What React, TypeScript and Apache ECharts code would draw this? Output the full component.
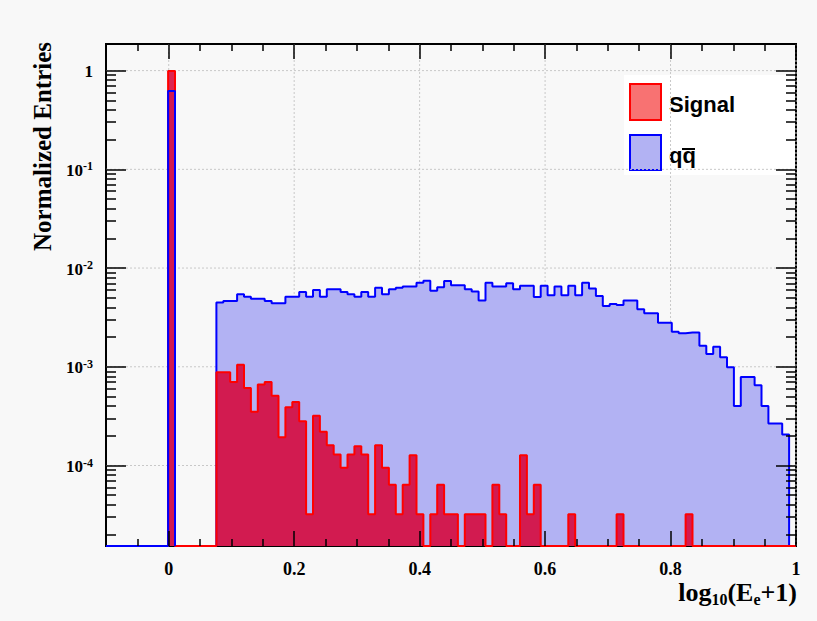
import React, { useEffect, useRef } from 'react';
import * as echarts from 'echarts';

// ---- axis ranges & binning ----
const X_MIN = -0.1;
const X_MAX = 1.0;
const Y_MIN = 1.53e-5;
const Y_MAX = 1.86;
const BIN_LOW = -0.1;
const BIN_WIDTH = 0.011;

// ---- histogram contents (100 bins of width 0.011 from -0.1) ----
const signal = [
  0, 0, 0, 0, 0, 0, 0, 0, 0, 0.99,
  0, 0, 0, 0, 0, 0, 8.8e-4, 8.8e-4, 7.0e-4, 1.05e-3,
  6.1e-4, 3.5e-4, 6.6e-4, 7.0e-4, 5.1e-4, 1.93e-4, 3.9e-4, 4.4e-4, 2.8e-4, 3.2e-5,
  3.2e-4, 2.2e-4, 1.6e-4, 1.29e-4, 9.5e-5, 1.29e-4, 1.57e-4, 1.29e-4, 3.2e-5, 1.6e-4,
  9.5e-5, 6.4e-5, 3.2e-5, 6.4e-5, 1.27e-4, 3.2e-5, 0, 3.2e-5, 6.4e-5, 3.2e-5,
  3.2e-5, 0, 3.2e-5, 3.2e-5, 3.2e-5, 0, 6.4e-5, 3.2e-5, 0, 0,
  1.27e-4, 3.2e-5, 6.4e-5, 0, 0, 0, 0, 3.2e-5, 0, 0,
  0, 0, 0, 0, 3.2e-5, 0, 0, 0, 0, 0,
  0, 0, 0, 0, 3.2e-5, 0, 0, 0, 0, 0,
  0, 0, 0, 0, 0, 0, 0, 0, 0, 0,
];

const qqbar = [
  0, 0, 0, 0, 0, 0, 0, 0, 0, 0.62,
  0, 0, 0, 0, 0, 0, 4.47e-3, 4.64e-3, 4.64e-3, 5.42e-3,
  5.13e-3, 4.89e-3, 4.89e-3, 4.64e-3, 4.40e-3, 4.40e-3, 5.13e-3, 5.13e-3, 5.73e-3, 5.13e-3,
  6.0e-3, 5.13e-3, 6.09e-3, 6.09e-3, 5.73e-3, 5.42e-3, 5.13e-3, 5.73e-3, 5.13e-3, 6.33e-3,
  5.42e-3, 6.09e-3, 6.33e-3, 6.5e-3, 6.5e-3, 7.1e-3, 7.44e-3, 5.9e-3, 6.4e-3, 7.4e-3,
  6.7e-3, 6.7e-3, 6.1e-3, 5.8e-3, 4.7e-3, 7.1e-3, 6.5e-3, 6.5e-3, 7.0e-3, 6.1e-3,
  6.6e-3, 6.6e-3, 5.1e-3, 6.6e-3, 5.3e-3, 6.5e-3, 5.3e-3, 6.6e-3, 5.3e-3, 7.1e-3,
  6.2e-3, 5.2e-3, 4.13e-3, 4.33e-3, 4.23e-3, 4.68e-3, 4.68e-3, 3.82e-3, 3.48e-3, 3.48e-3,
  2.8e-3, 2.8e-3, 2.27e-3, 2.19e-3, 2.22e-3, 2.22e-3, 1.63e-3, 1.35e-3, 1.6e-3, 1.25e-3,
  9.9e-4, 4.0e-4, 7.9e-4, 7.9e-4, 6.5e-4, 4.0e-4, 2.66e-4, 2.66e-4, 2.06e-4, 0,
];

// ---- ticks & labels ----
const X_MAJOR = [0, 0.2, 0.4, 0.6, 0.8, 1];
const X_MAJOR_LABELS = ['0', '0.2', '0.4', '0.6', '0.8', '1'];
const X_MINOR = [-0.05, 0.05, 0.1, 0.15, 0.25, 0.3, 0.35, 0.45, 0.5, 0.55, 0.65, 0.7, 0.75, 0.85, 0.9, 0.95];
const Y_MAJOR = [1e-4, 1e-3, 1e-2, 1e-1, 1];
const Y_MAJOR_EXP = ['-4', '-3', '-2', '-1', ''];
const Y_MINOR_MANTISSA = [2, 3, 4, 5, 6, 7, 8, 9];
const Y_DECADES = [1e-5, 1e-4, 1e-3, 1e-2, 1e-1, 1];

const SERIF = '"Liberation Serif", "Times New Roman", serif';
const SANS = '"Liberation Sans", Arial, sans-serif';

function histPoints(vals: number[]) {
  const pts: number[][] = [];
  for (let k = 0; k < vals.length; k++) {
    pts.push([+(BIN_LOW + k * BIN_WIDTH).toFixed(4), Math.max(vals[k], Y_MIN)]);
  }
  pts.push([+(BIN_LOW + vals.length * BIN_WIDTH).toFixed(4), Y_MIN]);
  return pts;
}

function yMinorValues() {
  const out: number[] = [];
  Y_DECADES.forEach((d) => {
    Y_MINOR_MANTISSA.forEach((m) => {
      const v = m * d;
      if (v > Y_MIN && v < Y_MAX) out.push(v);
    });
  });
  return out;
}

const TICK_STYLE = { color: '#000000', width: 1.5 };

// Tick-only axes: the axis line is pulled inside the frame by `len` px and the
// (outward-pointing) ticks reach back to the frame, so they sit inside the plot.
function xTickAxis(position: 'top' | 'bottom', values: number[], len: number) {
  return {
    type: 'value',
    position,
    offset: -len,
    min: X_MIN,
    max: X_MAX,
    z: 12,
    axisLine: { show: false, onZero: false },
    axisLabel: { show: false },
    splitLine: { show: false },
    axisTick: { show: true, inside: false, length: len, customValues: values, lineStyle: TICK_STYLE },
  };
}

function yTickAxis(position: 'left' | 'right', values: number[], len: number) {
  // linear axis in log10 space, overlaid on the log axis of the data
  return {
    type: 'value',
    position,
    offset: -len,
    min: Math.log10(Y_MIN),
    max: Math.log10(Y_MAX),
    z: 12,
    axisLine: { show: false, onZero: false },
    axisLabel: { show: false },
    splitLine: { show: false },
    axisTick: { show: true, inside: false, length: len, customValues: values.map((v) => Math.log10(v)), lineStyle: TICK_STYLE },
  };
}

export default function App() {
  const ref = useRef<HTMLDivElement>(null);

  useEffect(() => {
    if (!ref.current) return;
    const chart = echarts.init(ref.current, undefined, { renderer: 'svg' });
    const yMinor = yMinorValues();

    const renderGridLines = (_p: any, api: any) => {
      const ch: any[] = [];
      Y_MAJOR.forEach((v) => {
        const a = api.coord([X_MIN, v]);
        const b = api.coord([X_MAX, v]);
        ch.push({
          type: 'line',
          shape: { x1: a[0], y1: a[1], x2: b[0], y2: b[1] },
          style: { stroke: '#c8c8c8', lineWidth: 1, lineDash: [2, 2] },
        });
      });
      X_MAJOR.forEach((v) => {
        const a = api.coord([v, Y_MIN]);
        const b = api.coord([v, Y_MAX]);
        ch.push({
          type: 'line',
          shape: { x1: a[0], y1: a[1], x2: b[0], y2: b[1] },
          style: { stroke: '#c8c8c8', lineWidth: 1, lineDash: [2, 2] },
        });
      });
      return { type: 'group', children: ch };
    };

    const renderLabels = (_p: any, api: any) => {
      const ch: any[] = [];
      Y_MAJOR.forEach((v, i) => {
        const a = api.coord([X_MIN, v]);
        const exp = Y_MAJOR_EXP[i];
        ch.push({
          type: 'text',
          x: a[0] - 13,
          y: a[1] + 1,
          style: {
            text: exp ? `{b|10}{s|${exp}}` : '{b|1}',
            align: 'right',
            verticalAlign: 'middle',
            fill: '#000',
            rich: {
              b: { fontFamily: SERIF, fontWeight: 'bold', fontSize: 17, lineHeight: 20, fill: '#000' },
              s: { fontFamily: SERIF, fontWeight: 'bold', fontSize: 12, lineHeight: 10, verticalAlign: 'top', fill: '#000' },
            },
          },
        });
      });
      X_MAJOR.forEach((v, i) => {
        const a = api.coord([v, Y_MIN]);
        ch.push({
          type: 'text',
          x: a[0],
          y: a[1] + 23,
          style: {
            text: X_MAJOR_LABELS[i],
            align: 'center',
            verticalAlign: 'middle',
            fill: '#000',
            font: `bold 18px ${SERIF}`,
          },
        });
      });
      return { type: 'group', children: ch };
    };

    chart.setOption({
      animation: false,
      backgroundColor: '#f8f8f8',
      grid: {
        left: 106,
        top: 44,
        right: 21,
        bottom: 75,
        show: true,
        borderColor: '#000',
        borderWidth: 2,
        backgroundColor: 'transparent',
      },
      xAxis: [
        {
          type: 'value',
          position: 'bottom',
          min: X_MIN,
          max: X_MAX,
          axisLine: { show: false, onZero: false },
          axisTick: { show: false },
          axisLabel: { show: false },
          splitLine: { show: false },
        },
        xTickAxis('bottom', X_MAJOR, 15),
        xTickAxis('bottom', X_MINOR, 7),
        xTickAxis('top', X_MAJOR, 15),
        xTickAxis('top', X_MINOR, 7),
      ],
      yAxis: [
        {
          type: 'log',
          logBase: 10,
          position: 'left',
          min: Y_MIN,
          max: Y_MAX,
          axisLine: { show: false, onZero: false },
          axisTick: { show: false },
          axisLabel: { show: false },
          splitLine: { show: false },
        },
        yTickAxis('left', Y_MAJOR, 20),
        yTickAxis('left', yMinor, 10),
        yTickAxis('right', Y_MAJOR, 20),
        yTickAxis('right', yMinor, 10),
      ],
      series: [
        {
          type: 'custom',
          name: 'grid',
          silent: true,
          clip: false,
          z: 1,
          renderItem: renderGridLines,
          data: [[0.5, 0.01]],
        },
        {
          type: 'line',
          name: 'qqbar',
          step: 'end',
          symbol: 'none',
          z: 2,
          data: histPoints(qqbar),
          lineStyle: { color: '#0000ff', width: 2 },
          areaStyle: { color: '#b2b2f3', opacity: 1, origin: 'start' },
        },
        {
          type: 'line',
          name: 'Signal',
          step: 'end',
          symbol: 'none',
          z: 3,
          data: histPoints(signal),
          lineStyle: { color: '#ff0000', width: 2 },
          areaStyle: { color: 'rgba(215,0,50,0.85)', opacity: 1, origin: 'start' },
        },
        {
          type: 'line',
          name: 'qqbar outline',
          step: 'end',
          symbol: 'none',
          z: 4,
          data: histPoints(qqbar).filter((p) => p[0] < 0.02),
          lineStyle: { color: '#0000ff', width: 2 },
        },
        {
          type: 'custom',
          name: 'labels',
          silent: true,
          clip: false,
          z: 11,
          renderItem: renderLabels,
          data: [[0.5, 0.01]],
        },
      ],
      graphic: [
        {
          type: 'text',
          x: 42,
          y: 42,
          rotation: Math.PI / 2,
          style: {
            text: 'Normalized Entries',
            align: 'right',
            verticalAlign: 'middle',
            fill: '#000',
            font: `bold 25px ${SERIF}`,
          },
        },
        {
          type: 'text',
          x: 797,
          y: 592,
          style: {
            text: '{m|log}{s|10}{m|(E}{s|e}{m|+1)}',
            align: 'right',
            verticalAlign: 'middle',
            fill: '#000',
            rich: {
              m: { fontFamily: SERIF, fontWeight: 'bold', fontSize: 26, lineHeight: 30, fill: '#000' },
              s: { fontFamily: SERIF, fontWeight: 'bold', fontSize: 16, lineHeight: 15, verticalAlign: 'bottom', fill: '#000' },
            },
          },
        },
        {
          type: 'group',
          z: 20,
          children: [
            { type: 'rect', shape: { x: 624, y: 75, width: 171, height: 100 }, style: { fill: '#ffffff' } },
            { type: 'rect', shape: { x: 630, y: 84, width: 31, height: 36 }, style: { fill: '#f87272', stroke: '#ff0000', lineWidth: 2 } },
            { type: 'text', x: 669, y: 104, style: { text: 'Signal', fill: '#000', font: `bold 22px ${SANS}`, verticalAlign: 'middle' } },
            { type: 'rect', shape: { x: 630, y: 135, width: 31, height: 35 }, style: { fill: '#b2b2f3', stroke: '#0000ff', lineWidth: 2 } },
            { type: 'text', x: 669, y: 155, style: { text: 'qq', fill: '#000', font: `bold 22px ${SANS}`, verticalAlign: 'middle' } },
            { type: 'line', shape: { x1: 682, y1: 149, x2: 695, y2: 149 }, style: { stroke: '#000', lineWidth: 2 } },
          ],
        },
      ],
    });

    return () => chart.dispose();
  }, []);

  return (
    <div
      ref={ref}
      style={{ position: 'fixed', left: 0, top: 0, width: 817, height: 621 }}
    />
  );
}
